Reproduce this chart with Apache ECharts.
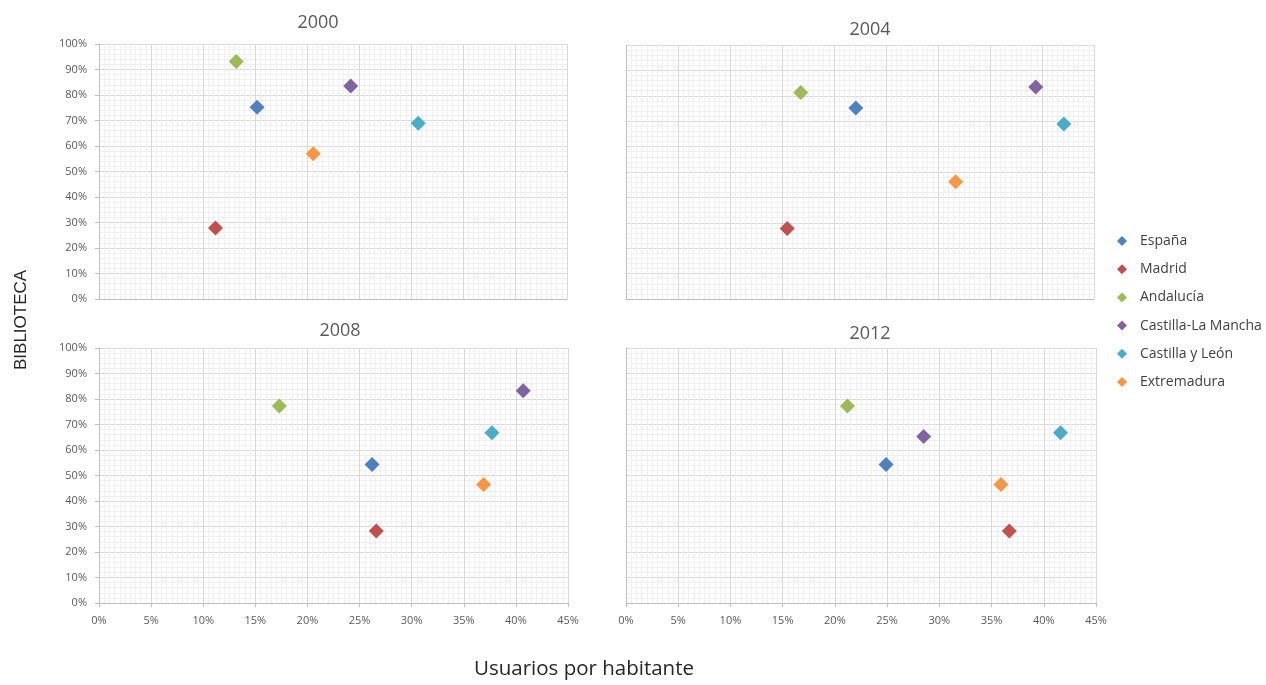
<!DOCTYPE html>
<html>
<head>
<meta charset="utf-8">
<script src="https://cdn.jsdelivr.net/npm/echarts@6/dist/echarts.min.js"></script>
<style>
html,body{margin:0;padding:0;background:#fff;}
#main{width:1266px;height:685px;}
</style>
</head>
<body>
<div id="main"></div>
<script>
// ---- data ----
const regions = ['España', 'Madrid', 'Andalucía', 'Castilla-La Mancha', 'Castilla y León', 'Extremadura'];
const years = ['2000', '2004', '2008', '2012'];
// x: Usuarios por habitante (%), y: Biblioteca (%) - order follows regions
const usuarios2000 = [15.2, 11.2, 13.2, 24.2, 30.7, 20.6];
const biblioteca2000 = [75.2, 27.8, 93.1, 83.5, 68.9, 57.0];
const usuarios2004 = [22.1, 15.5, 16.8, 39.4, 42.1, 31.7];
const biblioteca2004 = [75.2, 27.8, 81.3, 83.5, 68.9, 46.2];
const usuarios2008 = [26.2, 26.6, 17.3, 40.7, 37.7, 36.9];
const biblioteca2008 = [54.3, 28.2, 77.3, 83.2, 66.8, 46.5];
const usuarios2012 = [24.9, 36.7, 21.2, 28.5, 41.6, 35.9];
const biblioteca2012 = [54.3, 28.2, 77.3, 65.3, 66.8, 46.5];
const xTicks = ['0%', '5%', '10%', '15%', '20%', '25%', '30%', '35%', '40%', '45%'];
const yTicks = ['0%', '10%', '20%', '30%', '40%', '50%', '60%', '70%', '80%', '90%', '100%'];

const usuarios = [usuarios2000, usuarios2004, usuarios2008, usuarios2012];
const biblioteca = [biblioteca2000, biblioteca2004, biblioteca2008, biblioteca2012];
const colors = ['#4F81BD', '#C0504D', '#9BBB59', '#8064A2', '#4BACC6', '#F79646'];

const gridPos = [
  {left: 99, top: 44, width: 468, height: 255},
  {left: 626, top: 45, width: 468, height: 254},
  {left: 99, top: 348, width: 469, height: 255},
  {left: 626, top: 348, width: 470, height: 255}
];
const titlePos = [[313, 9], [865, 16], [335, 317], [865, 320]];

const labelFont = {color: '#595959', fontSize: 11, fontFamily: 'Open Sans'};
const xAxes = [], yAxes = [], series = [], titles = [];
for (let g = 0; g < 4; g++) {
  const showX = g >= 2, showY = g % 2 === 0;
  xAxes.push({
    gridIndex: g, type: 'value', min: 0, max: 45, interval: 5,
    axisLine: {show: true, lineStyle: {color: '#bfbfbf'}},
    axisTick: {show: showX, length: 4, lineStyle: {color: '#bfbfbf'}},
    axisLabel: Object.assign({show: showX, margin: 12, formatter: v => xTicks[Math.round(v / 5)]}, labelFont),
    splitLine: {show: true, lineStyle: {color: '#d9d9d9', width: 1}},
    minorTick: {show: true, splitNumber: 10, length: 0},
    minorSplitLine: {show: true, lineStyle: {color: '#f0f0f0', width: 1}}
  });
  yAxes.push({
    gridIndex: g, type: 'value', min: 0, max: 100, interval: 10,
    axisLine: {show: true, lineStyle: {color: '#bfbfbf'}},
    axisTick: {show: showY, length: 4, lineStyle: {color: '#bfbfbf'}},
    axisLabel: Object.assign({show: showY, margin: 12, formatter: v => yTicks[Math.round(v / 10)]}, labelFont),
    splitLine: {show: true, lineStyle: {color: '#d9d9d9', width: 1}},
    minorTick: {show: true, splitNumber: 5, length: 0},
    minorSplitLine: {show: true, lineStyle: {color: '#f0f0f0', width: 1}}
  });
  titles.push({
    text: years[g], left: titlePos[g][0], top: titlePos[g][1], textAlign: 'center',
    textStyle: {color: '#595959', fontSize: 18, fontWeight: 'normal', fontFamily: 'Open Sans'}
  });
  for (let r = 0; r < regions.length; r++) {
    series.push({
      name: regions[r], type: 'scatter', xAxisIndex: g, yAxisIndex: g,
      symbol: 'diamond', symbolSize: 15,
      itemStyle: {color: colors[r], opacity: 1},
      data: [[usuarios[g][r], biblioteca[g][r]]],
      z: 3
    });
  }
}

const chart = echarts.init(document.getElementById('main'), null, {renderer: 'canvas'});
chart.setOption({
  animation: false,
  backgroundColor: '#ffffff',
  color: colors,
  title: titles,
  grid: gridPos,
  xAxis: xAxes,
  yAxis: yAxes,
  legend: {
    data: regions.map((n, i) => ({name: n, icon: 'diamond', itemStyle: {color: colors[i]}})),
    orient: 'vertical', left: 1109, top: 226,
    backgroundColor: '#ffffff', padding: [8, 4, 8, 8],
    itemWidth: 10, itemHeight: 10, itemGap: 14.2,
    textStyle: {color: '#404040', fontSize: 14, fontFamily: 'Open Sans', padding: [0, 0, 0, 8]},
    z: 10
  },
  graphic: [
    {type: 'text', left: 474, top: 659, style: {text: 'Usuarios por habitante', fill: '#262626', fontSize: 20.5, fontFamily: 'Open Sans'}},
    {type: 'text', x: 13, y: 370, rotation: Math.PI / 2, style: {text: 'BIBLIOTECA', fill: '#262626', fontSize: 17, fontFamily: 'Liberation Sans'}}
  ],
  series: series
});
</script>
</body>
</html>
